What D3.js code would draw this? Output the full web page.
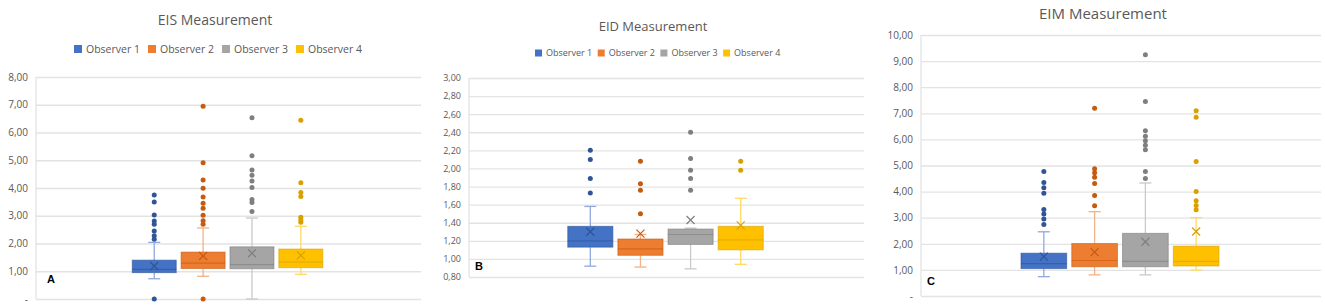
<!DOCTYPE html>
<html>
<head>
<meta charset="utf-8">
<script src="https://cdn.jsdelivr.net/npm/d3@7"></script>
<style>
  body { margin: 0; background: #fff; }
  text { font-family: "Open Sans", "Noto Sans", sans-serif; fill: #595959; }
  .grid line { stroke: #e3e3e3; stroke-width: 1.3; }
  .grid path { display: none; }
  .letter { font-family: "Liberation Sans", Arial, sans-serif; font-weight: bold; fill: #000; }
</style>
</head>
<body>
<div id="chart"></div>
<script>
const WIDTH = 1325;
const HEIGHT = 306;

const observers = ['Observer 1', 'Observer 2', 'Observer 3', 'Observer 4'];
const fills = ['#4472C4', '#ED7D31', '#A5A5A5', '#FFC000'];
const darks = ['#2F5597', '#C55A11', '#7F7F7F', '#D9A000'];
const lights = ['#8FAADC', '#F4B183', '#C9C9C9', '#FFD966'];

// per observer: [low whisker, q1, median, q3, high whisker, mean]
const eisStats = [
    [0.73, 0.95, 1.07, 1.40, 2.04, 1.19],
    [0.82, 1.10, 1.29, 1.69, 2.56, 1.55],
    [0.00, 1.09, 1.24, 1.88, 2.92, 1.65],
    [0.89, 1.13, 1.33, 1.80, 2.62, 1.57]
];
const eisOutliers = [
    [3.75, 3.50, 3.03, 2.81, 2.69, 2.45, 2.28, 2.15, 0.00],
    [6.95, 4.91, 4.29, 3.99, 3.68, 3.45, 3.27, 3.02, 2.82, 2.69, 0.00],
    [6.53, 5.16, 4.65, 4.46, 4.25, 4.02, 3.59, 3.48, 3.15],
    [6.44, 4.19, 3.84, 3.69, 2.95, 2.85, 2.77]
];
const eisTicks = [0, 1, 2, 3, 4, 5, 6, 7, 8];

const eidStats = [
    [0.92, 1.13, 1.20, 1.36, 1.58, 1.30],
    [0.91, 1.04, 1.11, 1.22, 1.27, 1.28],
    [0.89, 1.16, 1.27, 1.33, 1.34, 1.43],
    [0.94, 1.10, 1.21, 1.36, 1.67, 1.37]
];
const eidOutliers = [
    [2.20, 2.10, 1.89, 1.73],
    [2.08, 1.83, 1.76, 1.50],
    [2.40, 2.11, 1.98, 1.89, 1.76],
    [2.08, 1.98]
];
const eidTicks = [0.8, 1.0, 1.2, 1.4, 1.6, 1.8, 2.0, 2.2, 2.4, 2.6, 2.8, 3.0];

const eimStats = [
    [0.74, 1.05, 1.24, 1.64, 2.46, 1.51],
    [0.81, 1.12, 1.36, 2.01, 3.23, 1.68],
    [0.81, 1.12, 1.33, 2.40, 4.33, 2.08],
    [0.99, 1.15, 1.33, 1.91, 3.00, 2.47]
];
const eimOutliers = [
    [4.77, 4.35, 4.15, 3.94, 3.31, 3.14, 2.95, 2.74],
    [7.19, 4.88, 4.72, 4.55, 4.31, 3.85, 3.46],
    [9.24, 7.45, 6.33, 6.12, 5.95, 5.78, 5.60, 4.77, 4.50],
    [7.10, 6.85, 5.15, 4.00, 3.65, 3.47, 3.30]
];
const eimTicks = [0, 1, 2, 3, 4, 5, 6, 7, 8, 9, 10];

const panels = [
    {title: 'EIS Measurement', letter: 'A', stats: eisStats, outliers: eisOutliers, ticks: eisTicks,
     left: 36, right: 421, top: 77, bottom: 299, titleX: 215, titleY: 25, titleSize: 14,
     legend: {x: 74, y: 49, step: 74, font: 10.5, sq: 8}, tickFont: 10, letterX: 47, letterY: 283},
    {title: 'EID Measurement', letter: 'B', stats: eidStats, outliers: eidOutliers, ticks: eidTicks,
     left: 469, right: 864, top: 78, bottom: 277, titleX: 653, titleY: 31, titleSize: 13,
     legend: {x: 535, y: 53, step: 62.7, font: 9, sq: 7}, tickFont: 9, letterX: 475, letterY: 270},
    {title: 'EIM Measurement', letter: 'C', stats: eimStats, outliers: eimOutliers, ticks: eimTicks,
     left: 921, right: 1321, top: 35, bottom: 296, titleX: 1103, titleY: 19, titleSize: 15,
     legend: null, tickFont: 10, letterX: 927, letterY: 285}
];

function tickFormat(v) {
    return v === 0 ? '-' : v.toFixed(2).replace('.', ',');
}

var svg = d3.select('#chart').append('svg')
    .attr('width', WIDTH)
    .attr('height', HEIGHT);

function drawPanel(p) {
    var w = p.right - p.left;
    var y = d3.scaleLinear()
        .domain([p.ticks[0], p.ticks[p.ticks.length - 1]])
        .range([p.bottom, p.top]);
    var x = d3.scaleBand()
        .domain(observers)
        .range([p.left + w * 0.25, p.left + w * 0.745])
        .paddingInner(0.1)
        .paddingOuter(0);

    svg.append('text')
        .attr('x', p.titleX).attr('y', p.titleY)
        .attr('text-anchor', 'middle')
        .style('font-size', p.titleSize + 'px')
        .text(p.title);

    if (p.legend) {
        var lg = svg.append('g');
        observers.forEach(function (name, i) {
            var lx = p.legend.x + i * p.legend.step;
            lg.append('rect')
                .attr('x', lx).attr('y', p.legend.y - p.legend.sq / 2)
                .attr('width', p.legend.sq).attr('height', p.legend.sq)
                .attr('fill', fills[i]);
            lg.append('text')
                .attr('x', lx + p.legend.sq + 4).attr('y', p.legend.y)
                .attr('dy', '0.35em')
                .style('font-size', p.legend.font + 'px')
                .text(name);
        });
    }

    var grid = svg.append('g')
        .attr('class', 'grid')
        .attr('transform', 'translate(' + p.left + ',0)')
        .call(d3.axisLeft(y).tickValues(p.ticks).tickSize(-w).tickPadding(8).tickFormat(tickFormat));
    grid.selectAll('text').style('font-size', p.tickFont + 'px').attr('fill', '#595959');

    svg.append('line')
        .attr('x1', p.left).attr('x2', p.left)
        .attr('y1', p.top).attr('y2', p.bottom)
        .attr('stroke', '#e3e3e3').attr('stroke-width', 1.3);

    var bw = x.bandwidth();
    var cap = 12;
    observers.forEach(function (name, i) {
        var s = p.stats[i];
        var cx = x(name) + bw / 2;
        var g = svg.append('g');
        // whiskers
        g.append('line').attr('x1', cx).attr('x2', cx).attr('y1', y(s[3])).attr('y2', y(s[4]))
            .attr('stroke', lights[i]).attr('stroke-width', 1.3);
        g.append('line').attr('x1', cx).attr('x2', cx).attr('y1', y(s[1])).attr('y2', y(s[0]))
            .attr('stroke', lights[i]).attr('stroke-width', 1.3);
        [s[0], s[4]].forEach(function (v) {
            g.append('line').attr('x1', cx - cap / 2).attr('x2', cx + cap / 2)
                .attr('y1', y(v)).attr('y2', y(v))
                .attr('stroke', lights[i]).attr('stroke-width', 1.3);
        });
        // box
        g.append('rect')
            .attr('x', x(name)).attr('width', bw)
            .attr('y', y(s[3])).attr('height', y(s[1]) - y(s[3]))
            .attr('fill', fills[i])
            .attr('stroke', darks[i]).attr('stroke-opacity', 0.6).attr('stroke-width', 1);
        g.append('line').attr('x1', x(name)).attr('x2', x(name) + bw)
            .attr('y1', y(s[2])).attr('y2', y(s[2]))
            .attr('stroke', darks[i]).attr('stroke-opacity', 0.6).attr('stroke-width', 1.2);
        // mean marker
        var my = y(s[5]), m = 4;
        g.append('path')
            .attr('d', 'M' + (cx - m) + ',' + (my - m) + 'L' + (cx + m) + ',' + (my + m) +
                'M' + (cx - m) + ',' + (my + m) + 'L' + (cx + m) + ',' + (my - m))
            .attr('stroke', darks[i]).attr('stroke-width', 1.2).attr('fill', 'none');
        // outliers
        g.selectAll('circle').data(p.outliers[i]).enter().append('circle')
            .attr('cx', cx)
            .attr('cy', function (d) { return y(d); })
            .attr('r', 2.5)
            .attr('fill', darks[i]);
    });

    svg.append('text')
        .attr('class', 'letter')
        .attr('x', p.letterX).attr('y', p.letterY)
        .style('font-size', '11px')
        .text(p.letter);
}

panels.forEach(drawPanel);
</script>
</body>
</html>
